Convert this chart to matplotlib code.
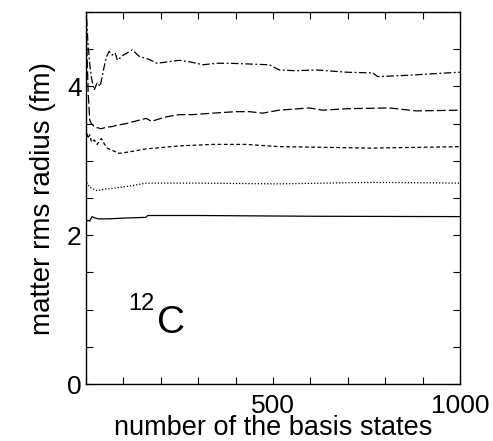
"""Matter rms radius of 12C versus the number of basis states."""

import matplotlib.pyplot as plt

plt.rcParams["font.family"] = ["Liberation Sans", "DejaVu Sans"]

# dash-dot curve (largest radius)
x_dd = [0, 5, 10, 15, 22, 30, 38, 48, 55, 62, 70, 78, 84, 100, 124, 143, 165, 190,
        220, 250, 277, 313, 350, 384, 437, 490, 517, 560, 616, 697, 767, 780, 866, 930, 1000]
y_dd = [5.1, 4.6, 4.3, 4.1, 3.95, 4.05, 4.0, 4.25, 4.4, 4.47, 4.42, 4.45, 4.35, 4.42, 4.49,
        4.4, 4.37, 4.31, 4.33, 4.35, 4.33, 4.29, 4.31, 4.31, 4.30, 4.29, 4.22, 4.21, 4.22,
        4.19, 4.18, 4.13, 4.15, 4.17, 4.19]

# long dashed curve
x_ld = [0, 3, 6, 10, 14, 20, 27, 40, 54, 70, 85, 108, 130, 161, 175, 214, 250, 285,
        339, 401, 437, 472, 517, 597, 633, 700, 811, 883, 1000]
y_ld = [5.0, 4.4, 3.9, 3.55, 3.5, 3.47, 3.45, 3.43, 3.45, 3.46, 3.48, 3.5, 3.53, 3.57,
        3.53, 3.59, 3.62, 3.62, 3.64, 3.66, 3.66, 3.64, 3.68, 3.71, 3.68, 3.70, 3.71, 3.67, 3.68]

# short dashed curve
x_sd = [0, 5, 10, 15, 22, 30, 41, 50, 57, 75, 89, 116, 161, 250, 339, 428, 517, 650, 758, 1000]
y_sd = [3.45, 3.3, 3.35, 3.25, 3.28, 3.22, 3.3, 3.22, 3.17, 3.13, 3.1, 3.12, 3.16, 3.2,
        3.22, 3.22, 3.19, 3.18, 3.17, 3.19]

# dotted curve
x_dt = [0, 3, 9, 20, 30, 50, 71, 116, 161, 300, 517, 760, 1000]
y_dt = [2.75, 2.7, 2.65, 2.62, 2.6, 2.62, 2.63, 2.66, 2.70, 2.70, 2.69, 2.71, 2.70]

# solid curve (smallest radius)
x_so = [0, 5, 10, 16, 25, 33, 60, 100, 160, 165, 300, 600, 1000]
y_so = [2.18, 2.2, 2.19, 2.25, 2.23, 2.22, 2.22, 2.23, 2.24, 2.265, 2.265, 2.255, 2.25]

x_ticks = list(range(0, 1001, 100))
x_labels = ["" if t not in (500, 1000) else str(t) for t in x_ticks]
y_ticks = [i * 0.5 for i in range(11)]
y_labels = [str(int(t)) if t in (0, 2, 4) else "" for t in y_ticks]

fig = plt.figure(figsize=(4.93, 4.41), dpi=100)
ax = fig.add_axes([0.1744, 0.129, 0.7586, 0.844])

lw = 0.9
ax.plot(x_dd, y_dd, color="black", lw=lw, dashes=(6, 2, 1.5, 2))
ax.plot(x_ld, y_ld, color="black", lw=lw, dashes=(7, 2.5))
ax.plot(x_sd, y_sd, color="black", lw=lw, dashes=(3, 2))
ax.plot(x_dt, y_dt, color="black", lw=lw, dashes=(1, 1.5))
ax.plot(x_so, y_so, color="black", lw=lw)

ax.text(112, 0.99, "12", fontsize=17)
ax.text(190, 0.69, "C", fontsize=28)

ax.set_xlim(0, 1000)
ax.set_ylim(0, 5)
ax.set_xticks(x_ticks)
ax.set_xticklabels(x_labels)
ax.set_yticks(y_ticks)
ax.set_yticklabels(y_labels)
ax.tick_params(direction="in", top=True, right=True, length=5, width=0.8,
               labelsize=19)
ax.tick_params(axis="x", pad=7)
ax.tick_params(axis="y", pad=3)
for s in ax.spines.values():
    s.set_linewidth(1.0)

ax.set_xlabel("number of the basis states", fontsize=19.5, labelpad=-2)
ax.set_ylabel("matter rms radius (fm)", fontsize=20, labelpad=8)

fig.savefig("out.png", dpi=100)
